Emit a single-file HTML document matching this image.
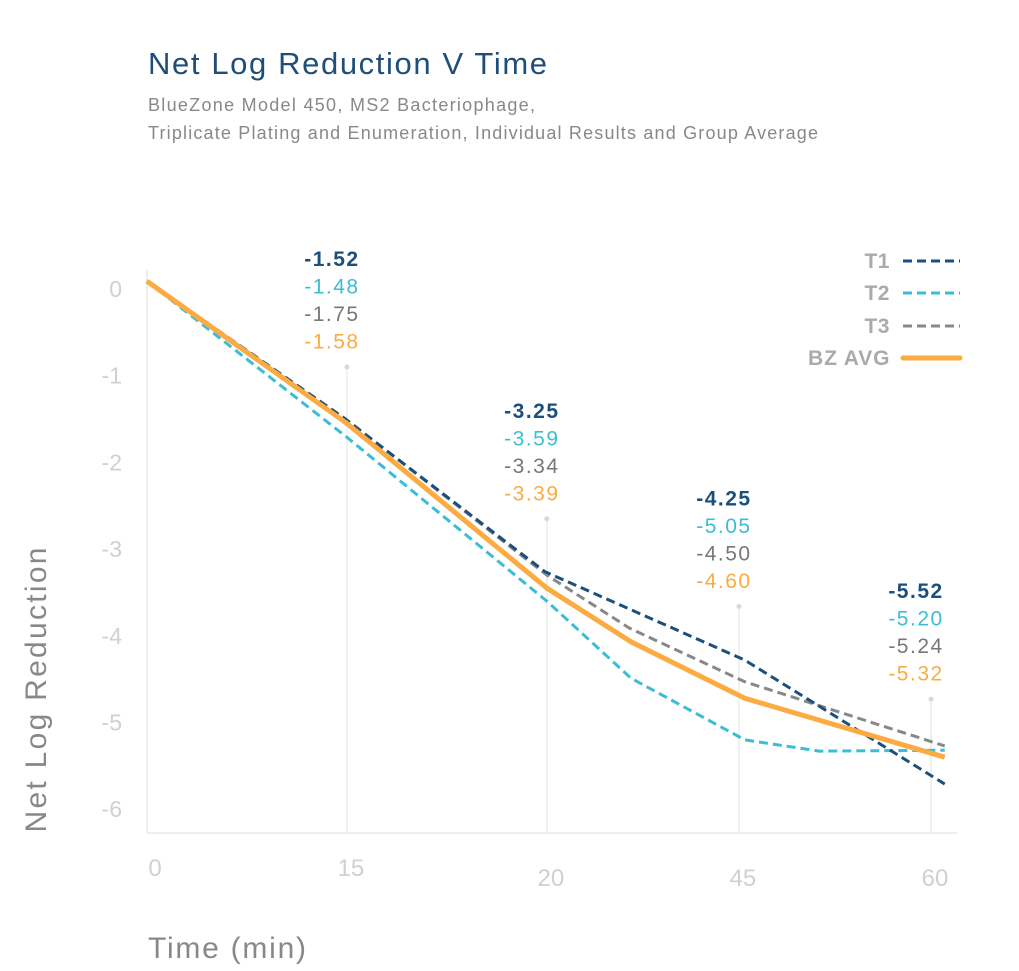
<!DOCTYPE html>
<html><head><meta charset="utf-8"><style>
body{margin:0;background:#fff;width:1019px;height:971px;overflow:hidden;font-family:"Liberation Sans",sans-serif}
svg{display:block}
</style></head><body>
<svg id="chart" width="1019" height="971" viewBox="0 0 1019 971">
<text x="148" y="74" font-size="31" fill="#1f4e79" textLength="399">Net Log Reduction V Time</text>
<text x="148" y="111" font-size="18" fill="#888" textLength="387">BlueZone Model 450, MS2 Bacteriophage,</text>
<text x="148" y="139" font-size="18" fill="#888" textLength="670">Triplicate Plating and Enumeration, Individual Results and Group Average</text>
<text transform="translate(46,690) rotate(-90)" text-anchor="middle" font-size="30" fill="#888" textLength="285">Net Log Reduction</text>
<text x="148" y="958" font-size="30" fill="#888" textLength="158">Time (min)</text>
<line x1="147" y1="270" x2="147" y2="833" stroke="#e8e8e8" stroke-width="1.5"/>
<line x1="147" y1="833" x2="957" y2="833" stroke="#e8e8e8" stroke-width="1.5"/>
<g id="grid"></g><g id="ticks"></g><g id="series"></g><g id="annots"></g>
<g font-size="21" font-weight="bold" fill="#aaa" text-anchor="end" letter-spacing="0.5">
<text x="890" y="268">T1</text>
<line x1="903" y1="261" x2="960" y2="261" stroke="#1b4f7c" stroke-width="3" stroke-dasharray="9,5"/>
<text x="890" y="300">T2</text>
<line x1="903" y1="293" x2="960" y2="293" stroke="#3dbcd6" stroke-width="3" stroke-dasharray="9,5"/>
<text x="890" y="333">T3</text>
<line x1="903" y1="326" x2="960" y2="326" stroke="#888" stroke-width="3" stroke-dasharray="9,5"/>
<text x="890" y="365" textLength="82">BZ AVG</text>
<line x1="903" y1="358" x2="960" y2="358" stroke="#fbab41" stroke-width="5" stroke-linecap="round"/>
</g>
</svg>
<script>
const xTickLabels=["0","15","20","45","60"];
const xTickIdx=[0,1.02,2.04,3.02,4.0];
const xTickYOffsets=[0,0,10,10,10];
const yTicks=[0,-1,-2,-3,-4,-5,-6];
const t1X=[0,1,2.03,3.05,4.07];
const t1Y=[0.09,-1.48,-3.26,-4.28,-5.71];
const t2X=[0,1.02,2.04,2.47,3.05,3.43,4.07];
const t2Y=[0.09,-1.71,-3.60,-4.49,-5.20,-5.33,-5.32];
const t3X=[0,1.02,2.04,2.46,3.05,4.07];
const t3Y=[0.09,-1.51,-3.30,-3.91,-4.53,-5.27];
const avgX=[0,1.02,2.04,2.47,3.05,4.07];
const avgY=[0.09,-1.55,-3.45,-4.07,-4.72,-5.40];
const t1Labels=["-1.52","-3.25","-4.25","-5.52"];
const t2Labels=["-1.48","-3.59","-5.05","-5.20"];
const t3Labels=["-1.75","-3.34","-4.50","-5.24"];
const avgLabels=["-1.58","-3.39","-4.60","-5.32"];
const annotAnchor=[-0.9,-2.65,-3.66,-4.73];

const NS="http://www.w3.org/2000/svg";
function xs(i){return 147+196*i;}
function ys(v){return 289-86.7*v;}
function mk(tag,attrs,parent){const e=document.createElementNS(NS,tag);for(const k in attrs)e.setAttribute(k,attrs[k]);document.getElementById(parent).appendChild(e);return e;}

yTicks.forEach(v=>{
  const t=mk("text",{x:122,y:ys(v)+8,"text-anchor":"end","font-size":23,fill:"#d0d0d0"},"ticks");
  t.textContent=String(v);
  
  
});
xTickLabels.forEach((l,i)=>{
  const t=mk("text",{x:xs(xTickIdx[i])+(i===0?8:4),y:876+xTickYOffsets[i],"text-anchor":"middle","font-size":24,fill:"#d0d0d0"},"ticks");
  t.textContent=l;
  
  
});
[1,2,3,4].forEach((i,k)=>{
  const gx=xs(xTickIdx[i]);
  const g=mk("line",{x1:gx,x2:gx,y1:ys(annotAnchor[k]),y2:833,stroke:"#ececec","stroke-width":1.5},"grid");
  
  
  const d=mk("circle",{cx:gx,cy:ys(annotAnchor[k]),r:2.5,fill:"#d8d8d8"},"grid");
  
  
});
function line(X,Y,color,w,dash,name){
  const p=mk("polyline",{points:X.map((x,i)=>xs(x)+","+ys(Y[i])).join(" "),fill:"none",stroke:color,"stroke-width":w,"stroke-dasharray":dash,"stroke-linejoin":"round"},"series");
  
  
}
line(t3X,t3Y,"#888",3,"9,5","series-t3");
line(t2X,t2Y,"#3dbcd6",3,"9,5","series-t2");
line(t1X,t1Y,"#1b4f7c",3,"9,5","series-t1");
line(avgX,avgY,"#fbab41",5,"none","series-bz-avg");
const sets=[[t1Labels,"#1b4f7c","bold"],[t2Labels,"#3dbcd6","normal"],[t3Labels,"#777","normal"],[avgLabels,"#fbab41","normal"]];
[1,2,3,4].forEach((i,k)=>{
  const top=ys(annotAnchor[k])-101;
  sets.forEach((s,r)=>{
    const t=mk("text",{x:xs(xTickIdx[i])-15,y:top+r*27.5,"text-anchor":"middle","font-size":21,"font-weight":s[2],fill:s[1],"letter-spacing":1.5},"annots");
    t.textContent=s[0][k];
    
    
  });
});
</script>
</body></html>
